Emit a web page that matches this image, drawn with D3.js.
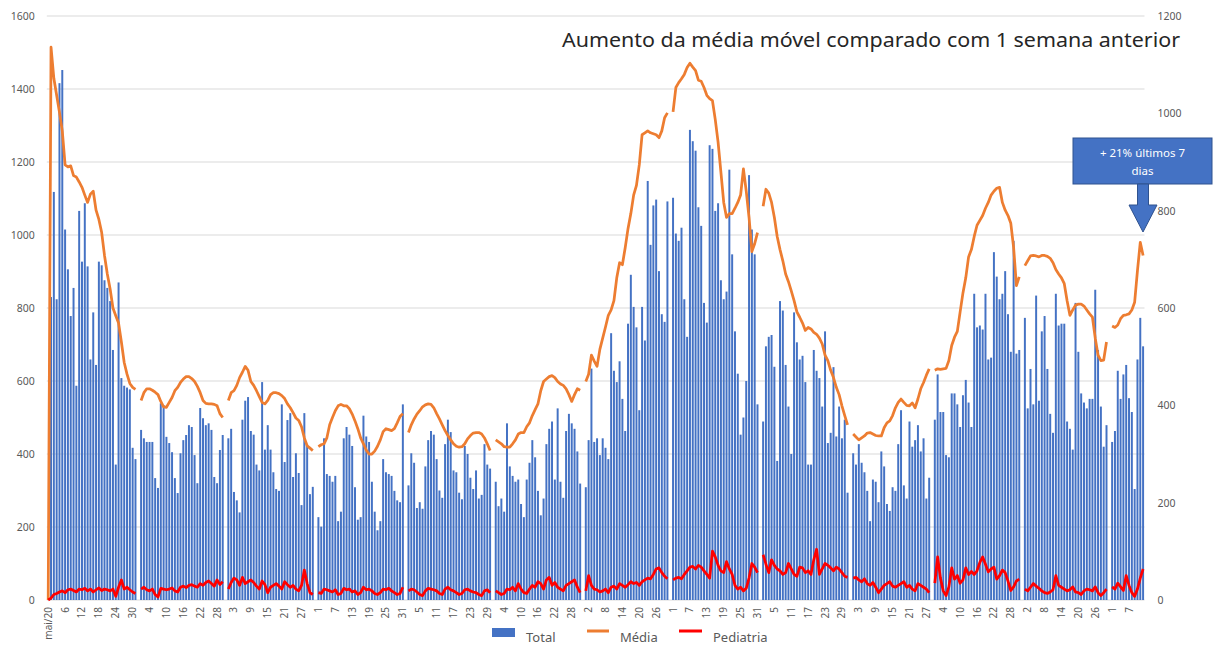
<!DOCTYPE html>
<html>
<head>
<meta charset="utf-8">
<script src="https://cdn.jsdelivr.net/npm/d3@7"></script>
<style>
  body { margin: 0; background: #fff; }
  text { font-family: "Noto Sans", "Open Sans", sans-serif; }
</style>
</head>
<body>
<svg id="chart" width="1218" height="645"></svg>
<script>
// each month in the sheet starts with a header row (label only, no data)
const monthLabels = ['mai/20', 'jun/20', 'jul/20', 'ago/20', 'set/20', 'out/20', 'nov/20',
  'dez/20', 'jan/21', 'fev/21', 'mar/21', 'abr/21', 'mai/21'];
const monthDays = [31, 30, 31, 31, 30, 31, 30, 31, 31, 28, 31, 30, 12];

// daily totals (bars, left axis)
const total = [
  830, 1118, 824, 1416, 1452, 1015, 906, 778, 855, 587, 1066, 927, 1087, 914, 659, 788, 644, 927, 917, 876, 855, 819, 685, 371, 870, 608, 587, 582, 577, 417, 386,
  466, 443, 433, 433, 433, 334, 307, 539, 534, 447, 430, 405, 334, 293, 402, 438, 452, 479, 474, 397, 320, 526, 498, 479, 484, 466, 337, 320, 411, 452,
  443, 469, 296, 273, 240, 494, 546, 556, 463, 453, 371, 355, 597, 412, 479, 412, 350, 304, 299, 536, 378, 493, 512, 337, 402, 348, 260, 512, 425, 290, 310,
  227, 201, 443, 345, 340, 324, 340, 216, 242, 443, 474, 453, 422, 309, 220, 227, 505, 448, 433, 324, 242, 191, 216, 386, 350, 345, 340, 299, 273, 268, 536,
  314, 402, 376, 252, 268, 250, 366, 438, 463, 453, 386, 300, 280, 427, 494, 460, 355, 350, 294, 276, 422, 400, 335, 304, 355, 278, 288, 427, 371, 360,
  324, 257, 278, 242, 484, 366, 340, 324, 330, 263, 227, 330, 376, 438, 391, 299, 232, 278, 427, 469, 489, 330, 525, 324, 280, 463, 510, 484, 469, 407, 319,
  309, 438, 634, 433, 443, 397, 443, 417, 386, 731, 628, 597, 654, 551, 463, 757, 891, 803, 747, 520, 803, 711, 1148, 973, 1081, 1097, 901, 783, 762, 1092,
  1102, 1004, 984, 1020, 824, 721, 1288, 1257, 1231, 1076, 1025, 814, 760, 1246, 1236, 1066, 1087, 876, 824, 845, 1179, 947, 736, 620, 453, 500, 600, 1164, 1015, 947, 536,
  489, 695, 721, 726, 639, 381, 819, 793, 644, 530, 400, 788, 706, 659, 669, 597, 371, 371, 685, 628, 608, 530, 736, 430, 458, 638, 448, 530, 443, 494, 294,
  402, 371, 427, 376, 350, 299, 216, 330, 324, 268, 407, 366, 263, 244, 309, 299, 427, 520, 314, 278, 489, 420, 438, 479, 407, 443, 278, 335,
  494, 618, 515, 515, 397, 391, 566, 566, 536, 474, 561, 603, 541, 474, 839, 747, 752, 741, 839, 659, 664, 953, 886, 824, 839, 901, 783, 680, 984, 675, 685,
  773, 525, 633, 536, 834, 546, 736, 778, 633, 510, 458, 839, 752, 757, 757, 489, 469, 412, 814, 680, 566, 541, 525, 551, 551, 850, 685, 530, 420, 479,
  433, 463, 628, 551, 618, 644, 553, 515, 304, 659, 773, 695
];

// moving average (orange, right axis)
const media = [
  1136, 1072, 1037, 1002, 964, 894, 890, 892, 872, 869, 859, 848, 832, 817, 834, 840, 801, 782, 755, 708, 670, 639, 600, 584, 569, 530, 488, 464, 445, 437, 433,
  410, 426, 434, 434, 431, 427, 422, 408, 397, 396, 406, 416, 430, 437, 447, 454, 459, 459, 455, 449, 439, 426, 410, 404, 403, 403, 402, 399, 383, 375,
  410, 426, 430, 441, 457, 468, 480, 472, 449, 441, 430, 418, 406, 403, 410, 422, 426, 426, 424, 420, 414, 403, 395, 385, 374, 369, 356, 333, 317, 312, 307,
  315, 319, 321, 333, 360, 375, 389, 399, 402, 399, 399, 393, 382, 368, 352, 333, 321, 308, 300, 300, 306, 316, 329, 346, 352, 350, 348, 352, 364, 377, 383,
  344, 360, 372, 382, 389, 397, 401, 403, 402, 395, 383, 372, 360, 348, 338, 329, 321, 316, 314, 315, 321, 331, 338, 343, 344, 344, 341, 333, 321, 307,
  329, 325, 321, 315, 314, 314, 321, 329, 341, 344, 344, 356, 364, 379, 391, 403, 430, 449, 454, 459, 461, 457, 449, 444, 441, 434, 422, 408, 422, 434, 431,
  449, 464, 503, 491, 480, 515, 538, 561, 585, 596, 615, 662, 693, 689, 724, 763, 794, 832, 852, 894, 956, 960, 964, 960, 958, 956, 950, 964, 991, 1001,
  1003, 1053, 1063, 1071, 1080, 1094, 1103, 1095, 1088, 1068, 1066, 1053, 1037, 1030, 1026, 987, 941, 879, 817, 786, 794, 794, 805, 817, 832, 886, 840, 786, 716, 732, 755,
  809, 844, 836, 817, 786, 747, 720, 697, 670, 654, 635, 615, 592, 581, 569, 554, 560, 557, 550, 546, 538, 526, 503, 492, 472, 457, 437, 422, 399, 379, 360,
  341, 335, 329, 333, 337, 343, 344, 341, 338, 337, 337, 354, 364, 368, 379, 395, 406, 413, 406, 400, 399, 405, 395, 413, 434, 447, 462, 475,
  472, 475, 474, 475, 476, 492, 523, 540, 552, 592, 631, 662, 705, 720, 747, 770, 780, 790, 805, 817, 832, 840, 846, 848, 817, 801, 790, 774, 724, 646, 664,
  687, 697, 707, 708, 707, 705, 708, 708, 706, 702, 693, 679, 670, 662, 650, 615, 585, 596, 606, 608, 608, 604, 596, 588, 581, 538, 503, 492, 493, 530,
  563, 560, 565, 578, 585, 586, 588, 596, 612, 677, 735, 708
];

// pediatric admissions (red, left axis)
const pediatria = [
  5, 15, 18, 22, 25, 20, 28, 30, 26, 22, 30, 28, 32, 25, 30, 22, 28, 33, 26, 30, 28, 25, 30, 10, 35, 55, 30, 35, 28, 22, 18,
  30, 35, 28, 25, 30, 15, 8, 32, 30, 28, 30, 33, 25, 22, 35, 38, 34, 40, 42, 38, 35, 45, 40, 48, 52, 45, 38, 55, 42, 50,
  30, 48, 60, 55, 40, 62, 45, 50, 55, 48, 38, 30, 52, 42, 20, 35, 40, 45, 38, 30, 50, 42, 35, 40, 30, 25, 40, 82, 45, 20, 15,
  20, 18, 30, 28, 25, 22, 28, 15, 18, 32, 28, 30, 22, 25, 15, 20, 35, 28, 30, 25, 18, 15, 20, 30, 28, 32, 25, 20, 15, 18, 35,
  25, 30, 28, 22, 15, 12, 25, 32, 30, 28, 25, 18, 15, 30, 35, 28, 25, 20, 15, 18, 28, 30, 25, 22, 20, 15, 12, 25, 28, 20,
  25, 20, 15, 18, 30, 28, 35, 25, 45, 30, 20, 18, 30, 40, 35, 50, 45, 30, 55, 62, 40, 48, 35, 30, 25, 40, 45, 50, 55, 35, 20,
  25, 67, 40, 30, 28, 22, 25, 30, 20, 35, 38, 30, 45, 40, 35, 42, 50, 45, 48, 40, 50, 55, 60, 58, 70, 85, 88, 75, 65, 58,
  55, 60, 62, 58, 70, 80, 90, 92, 85, 95, 90, 80, 70, 60, 134, 118, 95, 80, 75, 105, 85, 70, 40, 30, 35, 25, 32, 60, 100, 90, 75,
  124, 98, 75, 110, 95, 85, 80, 70, 75, 100, 85, 70, 65, 90, 88, 75, 80, 70, 110, 139, 70, 85, 100, 95, 88, 80, 90, 85, 75, 65, 62,
  60, 62, 55, 50, 58, 45, 40, 48, 35, 20, 30, 40, 45, 50, 38, 35, 40, 45, 50, 35, 40, 30, 25, 45, 40, 35, 30, 20,
  46, 118, 60, 25, 12, 36, 88, 57, 67, 46, 55, 88, 70, 78, 70, 80, 103, 118, 98, 77, 85, 90, 57, 67, 82, 75, 52, 26, 36, 52, 57,
  30, 25, 35, 45, 38, 32, 25, 20, 18, 22, 28, 67, 40, 35, 30, 25, 28, 36, 22, 20, 15, 25, 30, 28, 25, 36, 20, 12, 20, 30,
  36, 30, 46, 36, 26, 67, 40, 20, 10, 30, 60, 85
];

// the very first header row reads 0 for both lines in the sheet
const firstHeaderLine = 0;

const leftTicks = [0, 200, 400, 600, 800, 1000, 1200, 1400, 1600];
const rightTicks = [0, 200, 400, 600, 800, 1000, 1200];
const labelStep = 6;

const title = 'Aumento da média móvel comparado com 1 semana anterior';
const noteLines = ['+ 21% últimos 7', 'dias'];
const legendItems = ['Total', 'Média', 'Pediatria'];

// build category rows
const rows = [];
let k = 0;
monthLabels.forEach((m, mi) => {
  rows.push({ label: m, total: null,
    media: mi === 0 ? firstHeaderLine : null,
    ped: mi === 0 ? firstHeaderLine : null });
  for (let d = 1; d <= monthDays[mi]; d++) {
    rows.push({ label: String(d), total: total[k], media: media[k], ped: pediatria[k] });
    k++;
  }
});
rows.forEach((r, i) => r.i = i);

const svg = d3.select('#chart');
const plotL = 46.8, plotR = 1144.5, plotT = 16, plotB = 600;

const x = d3.scaleBand()
  .domain(d3.range(rows.length))
  .range([plotL, plotR])
  .paddingInner(0.3)
  .paddingOuter(0.15);
const cx = i => x(i) + x.bandwidth() / 2;

const yL = d3.scaleLinear().domain([0, 1600]).range([plotB, plotT]);
const yR = d3.scaleLinear().domain([0, 1200]).range([plotB, plotT]);
const fmt = d3.format('d');

// gridlines
svg.append('g')
  .selectAll('line')
  .data(leftTicks)
  .join('line')
  .attr('x1', plotL).attr('x2', plotR)
  .attr('y1', d => yL(d)).attr('y2', d => yL(d))
  .attr('stroke', '#d9d9d9')
  .attr('stroke-width', 1);

// left axis
const axL = svg.append('g')
  .attr('transform', `translate(${plotL},0)`)
  .call(d3.axisLeft(yL).tickValues(leftTicks).tickFormat(fmt).tickSize(0).tickPadding(12));
axL.select('.domain').remove();
axL.selectAll('text').attr('font-size', 10.5).attr('fill', '#595959')
  .style('font-family', '"Noto Sans", sans-serif');

// right axis
const axR = svg.append('g')
  .attr('transform', `translate(${plotR},0)`)
  .call(d3.axisRight(yR).tickValues(rightTicks).tickFormat(fmt).tickSize(0).tickPadding(13));
axR.select('.domain').remove();
axR.selectAll('text').attr('font-size', 10.5).attr('fill', '#595959')
  .style('font-family', '"Noto Sans", sans-serif');

// bars
svg.append('g')
  .selectAll('rect')
  .data(rows.filter(r => r.total != null))
  .join('rect')
  .attr('x', d => x(d.i))
  .attr('width', x.bandwidth())
  .attr('y', d => yL(d.total))
  .attr('height', d => plotB - yL(d.total))
  .attr('fill', '#4472c4');

// x labels
svg.append('g')
  .selectAll('text')
  .data(rows.filter(r => r.i % labelStep === 0))
  .join('text')
  .attr('transform', d => `translate(${cx(d.i)},607) rotate(-90)`)
  .attr('dy', '0.35em')
  .attr('text-anchor', 'end')
  .attr('font-size', 10)
  .attr('fill', '#595959')
  .text(d => d.label);

// lines
const mediaLine = d3.line()
  .defined(d => d.media != null)
  .x(d => cx(d.i))
  .y(d => yR(d.media));
svg.append('path')
  .datum(rows)
  .attr('d', mediaLine)
  .attr('fill', 'none')
  .attr('stroke', '#ed7d31')
  .attr('stroke-width', 2.75)
  .attr('stroke-linejoin', 'round');

const pedLine = d3.line()
  .defined(d => d.ped != null)
  .x(d => cx(d.i))
  .y(d => yL(d.ped));
svg.append('path')
  .datum(rows)
  .attr('d', pedLine)
  .attr('fill', 'none')
  .attr('stroke', '#ff0000')
  .attr('stroke-width', 2.75)
  .attr('stroke-linejoin', 'round');

// title
svg.append('text')
  .attr('x', 562).attr('y', 47)
  .attr('font-size', 20.5)
  .attr('fill', '#262626')
  .attr('textLength', 618)
  .attr('lengthAdjust', 'spacingAndGlyphs')
  .text(title);

// callout
const note = svg.append('g');
note.append('rect')
  .attr('x', 1073).attr('y', 138).attr('width', 139).attr('height', 46)
  .attr('fill', '#4472c4').attr('stroke', '#2f528f').attr('stroke-width', 1);
note.selectAll('text')
  .data(noteLines)
  .join('text')
  .attr('x', 1142.5)
  .attr('y', (d, i) => 157 + i * 18)
  .attr('text-anchor', 'middle')
  .attr('font-size', 11.5)
  .attr('fill', '#fff')
  .text(d => d);
note.append('path')
  .attr('d', 'M1137.5,184 L1148.5,184 L1148.5,205 L1157,205 L1143,232 L1129,205 L1137.5,205 Z')
  .attr('fill', '#4472c4').attr('stroke', '#2f528f').attr('stroke-width', 1);

// legend
const lg = svg.append('g').attr('font-size', 13).attr('fill', '#595959');
lg.append('rect').attr('x', 492).attr('y', 628).attr('width', 23).attr('height', 9).attr('fill', '#4472c4');
lg.append('text').attr('x', 526).attr('y', 642).text(legendItems[0]);
lg.append('line').attr('x1', 587).attr('x2', 609).attr('y1', 631).attr('y2', 631)
  .attr('stroke', '#ed7d31').attr('stroke-width', 3);
lg.append('text').attr('x', 620).attr('y', 642).text(legendItems[1]);
lg.append('line').attr('x1', 679).attr('x2', 702).attr('y1', 631).attr('y2', 631)
  .attr('stroke', '#ff0000').attr('stroke-width', 3);
lg.append('text').attr('x', 713).attr('y', 642).text(legendItems[2]);
</script>
</body>
</html>
